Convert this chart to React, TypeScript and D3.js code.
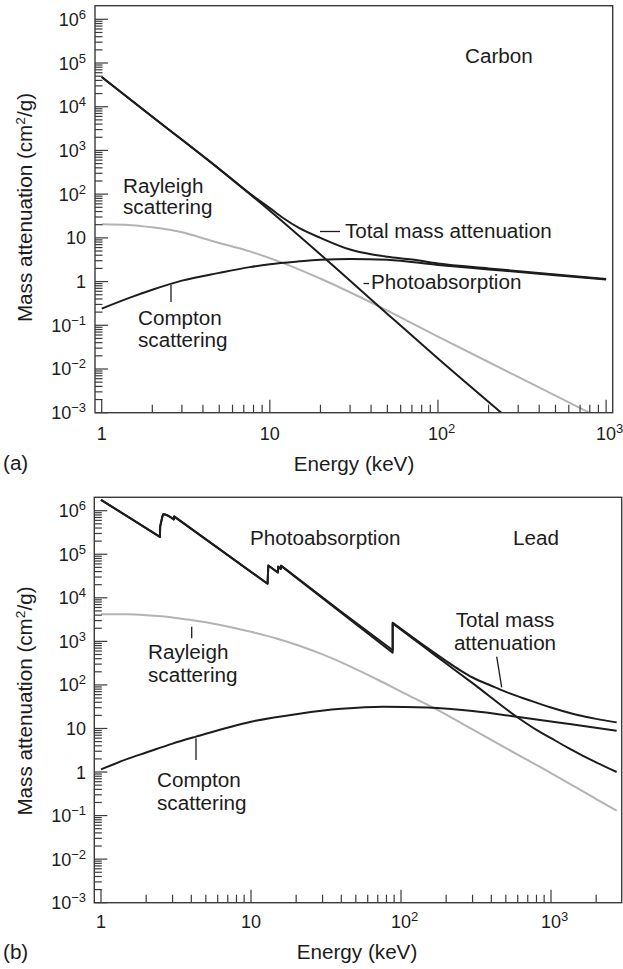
import React from 'react';
import * as d3 from 'd3';

type Pt = [number, number];

// ---------- Panel (a): Carbon ----------
const carbonPhoto: Pt[] = [
  [1, 4.8e4], [2, 5.9e3], [5, 372], [10, 41.7], [20, 4.17], [50, 0.182], [100, 0.0174], [238, 0.001],
];
const carbonTotal: Pt[] = [
  [1, 4.8e4], [2, 5.9e3], [5, 380], [8, 89], [10, 48], [12, 28.5], [15, 16.6], [20, 10],
  [30, 5.4], [40, 4.2], [50, 3.7], [70, 3.2], [100, 2.6], [200, 2.0], [500, 1.45], [1000, 1.15],
];
const carbonCompton: Pt[] = [
  [1, 0.24], [1.5, 0.44], [2, 0.65], [3, 1.05], [5, 1.58], [7.6, 2.14], [10, 2.5], [15, 2.9],
  [20, 3.15], [30, 3.3], [50, 3.15], [100, 2.4], [200, 1.9], [500, 1.4], [1000, 1.12],
];
const carbonRayleigh: Pt[] = [
  [1, 20.4], [1.5, 19.5], [2, 17.4], [3, 13.5], [4.2, 9.3], [5, 7.6], [7.6, 4.9], [11.7, 2.75],
  [20.7, 1.1], [43, 0.29], [100, 0.055], [300, 0.0066], [795, 0.001],
];

// ---------- Panel (b): Lead ----------
const leadPhoto: Pt[][] = [
  [[1, 1.78e6], [2.47, 2.5e5]],
  [[2.48, 4.3e5], [2.54, 6.3e5], [2.6, 8.3e5], [3.06, 6.3e5]],
  [[3.07, 7.4e5], [12.9, 2.1e4]],
  [[13.04, 5.5e4], [15.1, 3.8e4]],
  [[15.2, 5.2e4], [15.8, 4.6e4]],
  [[15.86, 5.4e4], [88, 550]],
  [[88, 2570], [150, 650], [200, 310], [300, 110], [590, 18.6], [800, 9.3], [1000, 6.0], [1300, 3.6], [2000, 1.66], [2740, 1.0]],
];
const leadTotal: Pt[][] = [
  [[1, 1.78e6], [2.47, 2.5e5]],
  [[2.48, 4.3e5], [2.54, 6.3e5], [2.6, 8.3e5], [3.06, 6.3e5]],
  [[3.07, 7.4e5], [12.9, 2.1e4]],
  [[13.04, 5.5e4], [15.1, 3.8e4]],
  [[15.2, 5.2e4], [15.8, 4.6e4]],
  [[15.86, 5.5e4], [40, 4.8e3], [88, 630]],
  [[88, 2690], [150, 708], [200, 355], [250, 214], [300, 148], [400, 95.5], [500, 69], [700, 45.7], [1000, 30.2], [1500, 20.4], [2000, 16.6], [2740, 13.8]],
];
const leadCompton: Pt[] = [
  [1, 1.15], [1.5, 2.0], [2, 2.8], [3, 4.5], [4.3, 6.5], [10, 14.3], [21, 21.9], [40, 28.2], [76, 31.6],
  [150, 30.2], [300, 25.1], [590, 18.6], [1000, 14.5], [1330, 12.6], [2740, 8.9],
];
const leadRayleigh: Pt[] = [
  [1, 4220], [1.5, 4170], [2, 3980], [3, 3550], [4, 3090], [6, 2450], [10, 1660], [15, 1150],
  [21, 794], [30, 501], [45, 275], [69, 135], [114, 56], [164, 30.2], [300, 9.5], [600, 2.5],
  [1000, 0.95], [2000, 0.24], [2740, 0.13],
];

// ---------- Ticks ----------
const yTickExps = [6, 5, 4, 3, 2, 1, 0, -1, -2, -3];
const xTickExps = [0, 1, 2, 3];

const FONT = "'Liberation Sans', Arial, Helvetica, sans-serif";
const INK = '#1c1c1c';
const GRAY = '#b3b3b3';
const SX = 1.06;

interface PanelCfg {
  frame: [number, number, number, number];
  xr: [number, number];
  yr: [number, number];
  xMaxTick: number;
  xLabelBase: number;
}

function lbl(e: number): { base: string; sup?: string } {
  if (e === 0) return { base: '1' };
  if (e === 1) return { base: '10' };
  return { base: '10', sup: e < 0 ? '\u2212' + -e : String(e) };
}

function T({ x, y, anchor, children }: { x: number; y: number; anchor?: string; children: React.ReactNode }) {
  return (
    <text transform={`translate(${x},${y}) scale(${SX},1)`} textAnchor={anchor || 'start'}>
      {children}
    </text>
  );
}

function Panel({ cfg, id, series }: { cfg: PanelCfg; id: string; series: { d: Pt[][]; color: string; w: number }[] }) {
  const [fx0, fy0, fx1, fy1] = cfg.frame;
  const x = d3.scaleLog().domain([1, 1000]).range(cfg.xr);
  const y = d3.scaleLog().domain([1e-3, 1e6]).range(cfg.yr);
  const gen = d3.line<Pt>().x((d) => x(d[0])).y((d) => y(d[1])).curve(d3.curveMonotoneX);
  const pathOf = (segs: Pt[][]) =>
    segs.map((s, i) => { const p = gen(s) || ''; return i === 0 ? p : 'L' + p.slice(1); }).join('');

  const yTicks: { v: number; major: boolean }[] = [];
  for (let k = -3; k <= 6; k++) {
    yTicks.push({ v: Math.pow(10, k), major: true });
    if (k < 6) for (let m = 2; m <= 9; m++) yTicks.push({ v: m * Math.pow(10, k), major: false });
  }
  const xTicks: { v: number; major: boolean }[] = [];
  for (let k = 0; k <= 3; k++) {
    for (let m = 1; m <= 9; m++) {
      const v = m * Math.pow(10, k);
      if (v <= cfg.xMaxTick) xTicks.push({ v, major: m === 1 });
    }
  }

  return (
    <g>
      <defs>
        <clipPath id={id}>
          <rect x={fx0} y={fy0} width={fx1 - fx0} height={fy1 - fy0} />
        </clipPath>
      </defs>
      <g clipPath={`url(#${id})`} fill="none" strokeLinejoin="round">
        {series.map((s, i) => (
          <path key={i} d={pathOf(s.d)} stroke={s.color} strokeWidth={s.w} />
        ))}
      </g>
      <rect x={fx0} y={fy0} width={fx1 - fx0} height={fy1 - fy0} fill="none" stroke="#3a3a3a" strokeWidth={1.4} />
      <g stroke="#3a3a3a" strokeWidth={1.2}>
        {yTicks.map((t, i) => (
          <line key={'y' + i} x1={fx0} x2={fx0 + (t.major ? 13 : 7.5)} y1={y(t.v)} y2={y(t.v)} />
        ))}
        {xTicks.map((t, i) => (
          <line key={'x' + i} x1={x(t.v)} x2={x(t.v)} y1={fy1} y2={fy1 - (t.major ? 13 : 8)} />
        ))}
      </g>
      <g fontFamily={FONT} fill={INK} fontSize={18}>
        {yTickExps.map((e) => {
          const l = lbl(e);
          return (
            <text key={'yl' + e} x={86} y={y(Math.pow(10, e)) + 6.5} textAnchor="end">
              {l.base}
              {l.sup && <tspan dy={-7} fontSize={13}>{l.sup}</tspan>}
            </text>
          );
        })}
        {xTickExps.map((e) => {
          const l = lbl(e);
          const w = l.base.length * 0.556 * 18;
          return (
            <text key={'xl' + e} x={x(Math.pow(10, e)) - w / 2} y={cfg.xLabelBase}>
              {l.base}
              {l.sup && <tspan dy={-7} fontSize={13}>{l.sup}</tspan>}
            </text>
          );
        })}
      </g>
    </g>
  );
}

const cfgA: PanelCfg = { frame: [95, 5.7, 612.7, 412.7], xr: [101.7, 606.1], yr: [412.7, 19.3], xMaxTick: 1000, xLabelBase: 440 };
const cfgB: PanelCfg = { frame: [94.3, 497.3, 621.7, 902.7], xr: [101, 551], yr: [902.7, 510.7], xMaxTick: 2000, xLabelBase: 928 };

function YTitle({ cx, cy }: { cx: number; cy: number }) {
  return (
    <text transform={`translate(${cx},${cy}) rotate(-90) scale(${SX},1)`} textAnchor="middle">
      Mass attenuation (cm<tspan dy={-7} fontSize={13}>2</tspan><tspan dy={7}>/g)</tspan>
    </text>
  );
}

export default function App() {
  return (
    <svg width={623} height={969} style={{ position: 'absolute', left: 0, top: 0, background: '#fff' }}>
      <rect width={623} height={969} fill="#fff" />
      <Panel
        cfg={cfgA}
        id="clipA"
        series={[
          { d: [carbonRayleigh], color: GRAY, w: 2 },
          { d: [carbonCompton], color: INK, w: 2 },
          { d: [carbonPhoto], color: INK, w: 2 },
          { d: [carbonTotal], color: INK, w: 2 },
        ]}
      />
      <Panel
        cfg={cfgB}
        id="clipB"
        series={[
          { d: [leadRayleigh], color: GRAY, w: 2 },
          { d: [leadCompton], color: INK, w: 2 },
          { d: leadPhoto, color: INK, w: 2 },
          { d: leadTotal, color: INK, w: 2 },
        ]}
      />
      <g fontFamily={FONT} fill={INK} fontSize={19.5}>
        {/* Panel a annotations */}
        <T x={465} y={63}>Carbon</T>
        <T x={123} y={193}>Rayleigh</T>
        <T x={123} y={214}>scattering</T>
        <line x1={320} x2={340} y1={231.5} y2={231.5} stroke={INK} strokeWidth={1.3} />
        <T x={345} y={238}>Total mass attenuation</T>
        <line x1={363.5} x2={369} y1={283.5} y2={283.5} stroke={INK} strokeWidth={1.3} />
        <T x={371} y={289}>Photoabsorption</T>
        <line x1={171} x2={171} y1={285} y2={302} stroke={INK} strokeWidth={1.3} />
        <T x={138} y={325}>Compton</T>
        <T x={138} y={347}>scattering</T>
        <YTitle cx={31.7} cy={207.5} />
        <T x={354} y={471} anchor="middle">Energy (keV)</T>
        <T x={3} y={470}>(a)</T>

        {/* Panel b annotations */}
        <T x={250} y={545}>Photoabsorption</T>
        <T x={513} y={545}>Lead</T>
        <T x={505} y={627} anchor="middle">Total mass</T>
        <T x={505} y={650} anchor="middle">attenuation</T>
        <line x1={496.7} x2={501.7} y1={656.7} y2={687.3} stroke={INK} strokeWidth={1.3} />
        <line x1={191.7} x2={191.7} y1={626.7} y2={638.3} stroke={INK} strokeWidth={1.3} />
        <T x={148} y={659}>Rayleigh</T>
        <T x={148} y={682}>scattering</T>
        <line x1={196} x2={196} y1={738.3} y2={760} stroke={INK} strokeWidth={1.3} />
        <T x={157} y={787}>Compton</T>
        <T x={157} y={810}>scattering</T>
        <YTitle cx={31.7} cy={701} />
        <T x={357} y={959} anchor="middle">Energy (keV)</T>
        <T x={3} y={959}>(b)</T>
      </g>
    </svg>
  );
}
